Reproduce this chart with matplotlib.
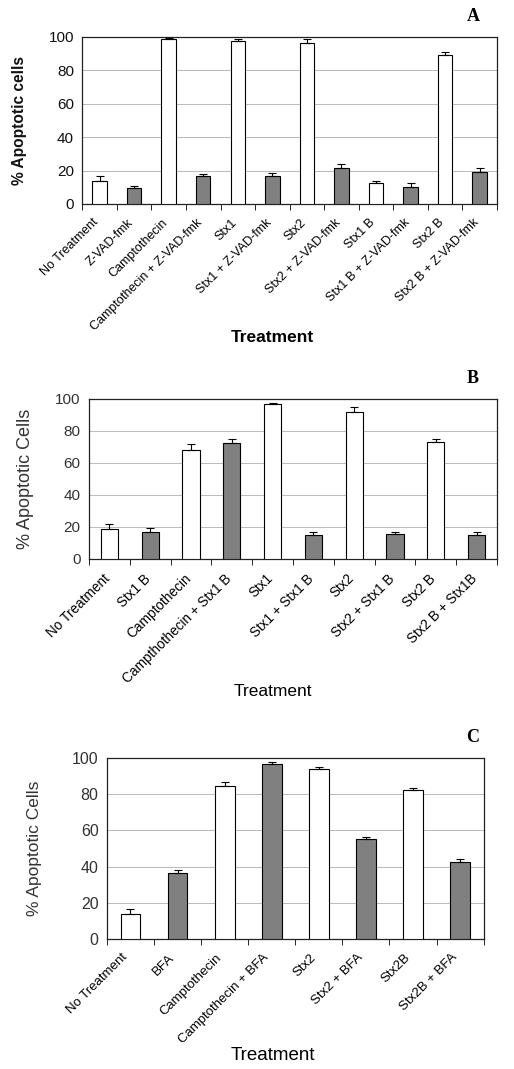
import matplotlib.pyplot as plt
import matplotlib.transforms as mtransforms
import numpy as np

plt.rcParams['font.family'] = ['Liberation Sans', 'DejaVu Sans']

# Panel A
a_labels = ['No Treatment', 'Z-VAD-fmk', 'Camptothecin', 'Camptothecin + Z-VAD-fmk',
            'Stx1', 'Stx1 + Z-VAD-fmk', 'Stx2', 'Stx2 + Z-VAD-fmk',
            'Stx1 B', 'Stx1 B + Z-VAD-fmk', 'Stx2 B', 'Stx2 B + Z-VAD-fmk']
a_values = [14, 9.3, 98.7, 16.5, 97.8, 16.5, 96.5, 21.3, 12.5, 10, 89, 19]
a_errors = [3, 1.5, 0.5, 1.2, 0.7, 2, 2.3, 2.4, 1.5, 2.3, 2.2, 2.6]
a_shaded = [0, 1, 0, 1, 0, 1, 0, 1, 0, 1, 0, 1]

# Panel B
b_labels = ['No Treatment', 'Stx1 B', 'Camptothecin', 'Campthothecin + Stx1 B',
            'Stx1', 'Stx1 + Stx1 B', 'Stx2', 'Stx2 + Stx1 B', 'Stx2 B', 'Stx2 B + Stx1B']
b_values = [19, 17.1, 68.3, 72.4, 96.9, 15, 91.9, 15.4, 72.9, 14.8]
b_errors = [3, 2, 3.7, 2.5, 0.6, 2, 3.3, 1.2, 2, 1.9]
b_shaded = [0, 1, 0, 1, 0, 1, 0, 1, 0, 1]

# Panel C
c_labels = ['No Treatment', 'BFA', 'Camptothecin', 'Camptothecin + BFA',
            'Stx2', 'Stx2 + BFA', 'Stx2B', 'Stx2B + BFA']
c_values = [14, 36.2, 84.7, 96.5, 93.8, 55.1, 82.4, 42.5]
c_errors = [2.7, 2.2, 2, 1.1, 1.1, 1.1, 1.3, 1.8]
c_shaded = [0, 1, 0, 1, 0, 1, 0, 1]

fig = plt.figure(figsize=(5.14, 10.69), dpi=100)


def draw_panel(rect, labels, values, errors, shaded, ylabel, bold, letter,
               ylab_x, xlab_y, ytick_size, xtick_size, ylab_size, xlab_size,
               tick_color, shift):
    ax = fig.add_axes(rect)
    x = np.arange(len(labels))
    colors = ['#808080' if s else 'white' for s in shaded]
    ax.bar(x, values, width=0.42, color=colors, edgecolor='black', linewidth=0.8,
           yerr=[np.zeros(len(errors)), errors],
           error_kw=dict(ecolor='black', elinewidth=0.8, capsize=3, capthick=0.8),
           zorder=3)
    ax.set_xlim(-0.5, len(labels) - 0.5)
    ax.set_ylim(0, 100)
    ax.set_yticks([0, 20, 40, 60, 80, 100])
    ax.yaxis.grid(True, color='#b0b0b0', linewidth=0.6, zorder=0)
    ax.tick_params(axis='y', length=0, labelsize=ytick_size, pad=6, labelcolor=tick_color)
    ax.set_xticks(np.arange(len(labels) + 1) - 0.5)
    ax.set_xticklabels([])
    ax.tick_params(axis='x', which='major', length=4, width=0.6, direction='out')
    ax.set_xticks(x, minor=True)
    ax.set_xticklabels(labels, minor=True, rotation=45, ha='right',
                       rotation_mode='anchor', fontsize=xtick_size)
    ax.tick_params(axis='x', which='minor', length=0, pad=9)
    offset = mtransforms.ScaledTranslation(-shift / 100, 0, fig.dpi_scale_trans)
    for lab in ax.get_xticklabels(minor=True):
        lab.set_transform(lab.get_transform() + offset)
    for sp in ax.spines.values():
        sp.set_linewidth(0.9)
        sp.set_color('#222222')
    fig.text(ylab_x, rect[1] + rect[3] / 2, ylabel, rotation=90, ha='center', va='center',
             fontsize=ylab_size, fontweight='bold' if bold else 'normal', color=tick_color)
    fig.text(0.53, xlab_y, 'Treatment', ha='center', va='center',
             fontsize=xlab_size, fontweight='bold' if bold else 'normal')
    fig.text(0.92, rect[1] + rect[3] + 0.019, letter, ha='center', va='center',
             fontsize=13, fontweight='bold', family='Liberation Serif')
    return ax


draw_panel([0.160, 0.8092, 0.807, 0.1562], a_labels, a_values, a_errors, a_shaded,
           '% Apoptotic cells', True, 'A', 20 / 514, 1 - 337 / 1069, 11, 9, 11.2, 12.5,
           '#111111', 7)
draw_panel([0.173, 0.4771, 0.794, 0.1497], b_labels, b_values, b_errors, b_shaded,
           '% Apoptotic Cells', False, 'B', 25 / 514, 1 - 692 / 1069, 11, 9.8, 13, 12.5,
           '#333333', 7)
draw_panel([0.208, 0.1216, 0.733, 0.1693], c_labels, c_values, c_errors, c_shaded,
           '% Apoptotic Cells', False, 'C', 35 / 514, 1 - 1055 / 1069, 11.5, 9.5, 12.5, 13.5,
           '#333333', 9)

fig.savefig('out.png', dpi=100)
